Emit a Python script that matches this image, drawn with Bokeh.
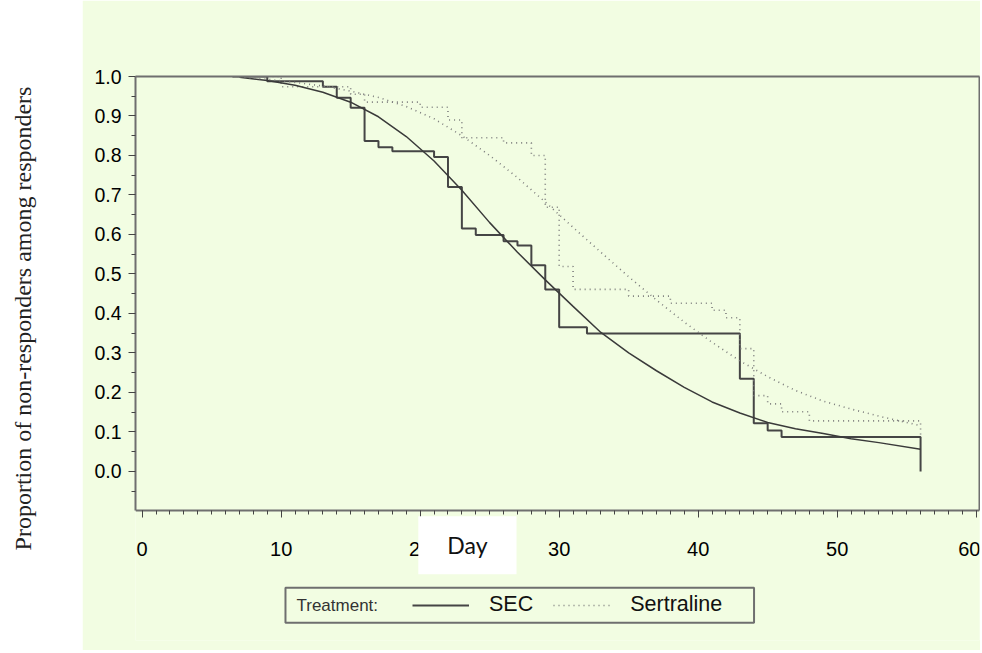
import math
from bokeh.plotting import figure
from bokeh.layouts import row
from bokeh.models import (Range1d, FixedTicker, NumeralTickFormatter, Label,
                          Legend, LegendItem, LinearAxis)
from bokeh.embed import file_html
from bokeh.resources import INLINE

# ---------------- data ----------------
sec_step_day = [6.5, 9, 13, 14, 15, 16, 17, 18, 21, 22, 23, 24, 26, 27, 28, 29, 30, 32, 43, 44, 45, 46, 56]
sec_step_surv = [1.0, 0.988, 0.974, 0.946, 0.921, 0.837, 0.821, 0.811, 0.796, 0.720, 0.615, 0.599,
                 0.583, 0.572, 0.522, 0.461, 0.365, 0.349, 0.235, 0.122, 0.104, 0.087, 0.0]

ser_step_day = [6.5, 10, 15, 16, 20, 22, 23, 26, 28, 29, 30, 31, 35, 38, 41, 42, 43, 44, 45, 46, 48, 56]
ser_step_surv = [1.0, 0.974, 0.955, 0.935, 0.922, 0.890, 0.845, 0.832, 0.800, 0.669, 0.519, 0.461,
                 0.444, 0.426, 0.408, 0.389, 0.311, 0.192, 0.171, 0.151, 0.128, 0.090]

fit_day = [7, 9, 11, 13, 15, 17, 19, 21, 23, 25, 27, 29, 31, 33, 35, 37, 39, 41, 43, 45, 47, 49, 51, 53, 56]
sec_fit = [0.998, 0.990, 0.978, 0.960, 0.935, 0.898, 0.848, 0.786, 0.712, 0.630, 0.555, 0.485, 0.418,
           0.352, 0.300, 0.255, 0.213, 0.176, 0.148, 0.124, 0.108, 0.096, 0.083, 0.073, 0.056]
ser_fit = [0.999, 0.993, 0.985, 0.976, 0.963, 0.947, 0.924, 0.893, 0.850, 0.800, 0.744, 0.682, 0.618,
           0.555, 0.493, 0.434, 0.378, 0.327, 0.280, 0.240, 0.205, 0.178, 0.158, 0.140, 0.116]

x_ticks = [0, 10, 20, 30, 40, 50, 60]
y_ticks = [0.0, 0.1, 0.2, 0.3, 0.4, 0.5, 0.6, 0.7, 0.8, 0.9, 1.0]
series_names = ["SEC", "Sertraline"]
legend_title = "Treatment:"
x_title = "Day"
y_title = "Proportion of non-responders among responders"

# ---------------- styling ----------------
BG = "#F2FDE2"
BOX = "#6f6f6f"
DARK = "#454545"
DOT = "#7c7c7c"
H = 650
TOP, BOTTOM = 76, 10

# left white strip with the rotated y title
left = figure(width=82, height=H, x_range=Range1d(0, 82), y_range=Range1d(0, H - TOP - BOTTOM),
              output_backend="svg", toolbar_location=None,
              min_border_left=0, min_border_right=0, min_border_top=TOP, min_border_bottom=BOTTOM,
              x_axis_type=None, y_axis_type=None, outline_line_color=None,
              background_fill_color="white", border_fill_color="white")
left.grid.visible = False
left.add_layout(Label(x=22, y=H - BOTTOM - 318, text=y_title, angle=math.pi / 2,
                      text_align="center", text_baseline="middle",
                      text_font="Liberation Serif", text_font_size="24px", text_color="#222222"))

p = figure(width=898, height=H, x_range=Range1d(-0.48, 60.24), y_range=Range1d(-0.428, 1.0),
           output_backend="svg", toolbar_location=None,
           min_border_left=53, min_border_right=1, min_border_top=TOP, min_border_bottom=BOTTOM,
           background_fill_color=BG, border_fill_color=BG, outline_line_color=None)
p.grid.visible = False

# axes: x axis drawn at the bottom of the plot box, inside the frame
p.xaxis.fixed_location = -0.1
p.xaxis.ticker = FixedTicker(ticks=x_ticks, minor_ticks=list(range(0, 61)))
p.yaxis.ticker = FixedTicker(ticks=y_ticks, minor_ticks=[t - 0.05 for t in y_ticks])
p.yaxis.bounds = (-0.1, 1.0)
p.yaxis.formatter = NumeralTickFormatter(format="0.0")
for ax in (p.xaxis, p.yaxis):
    ax.axis_line_color = BOX
    ax.axis_line_width = 2
    ax.major_tick_line_color = "#444444"
    ax.minor_tick_line_color = "#444444"
    ax.major_tick_in = 0
    ax.minor_tick_in = 0
    ax.major_tick_out = 7
    ax.minor_tick_out = 4
    ax.major_label_text_font = "Liberation Sans"
    ax.major_label_text_color = "#000000"
p.xaxis.major_label_text_font_size = "20px"
p.xaxis.major_label_standoff = 24
p.yaxis.major_label_text_font_size = "19.5px"
p.yaxis.major_label_standoff = 7

# top and right edges of the plot box
top_ax = LinearAxis(ticker=FixedTicker(ticks=[]), axis_line_color=BOX, axis_line_width=2)
right_ax = LinearAxis(ticker=FixedTicker(ticks=[]), axis_line_color=BOX, axis_line_width=2,
                      bounds=(-0.1, 1.0))
p.add_layout(top_ax, "above")
p.add_layout(right_ax, "right")

# curves
r_sec = p.step(sec_step_day, sec_step_surv, mode="after", line_color=DARK, line_width=2)
r_ser = p.step(ser_step_day, ser_step_surv, mode="after", line_color=DOT, line_width=1.6,
               line_dash="1 4")
p.line(fit_day, sec_fit, line_color="#3a3a3a", line_width=1.5)
p.line(fit_day, ser_fit, line_color=DOT, line_width=1.6, line_dash="1 4")

# "Day" title in a white box
p.add_layout(Label(x=23.4, y=-0.187, text=x_title, text_align="center", text_baseline="middle",
                   text_font="Lato", text_font_size="23px", text_color="#111111",
                   background_fill_color="white",
                   padding=dict(left=29, right=29, top=15, bottom=15)))

# legend box with "Treatment:" text
p.add_layout(Label(x=10.31, y=-0.339, text=legend_title, text_align="left", text_baseline="middle",
                   text_font="Liberation Sans", text_font_size="17px", text_color="#333333",
                   border_line_color=BOX, border_line_width=2,
                   padding=dict(left=11, right=376, top=8, bottom=8)))

legend = Legend(items=[LegendItem(label=series_names[0], renderers=[r_sec]),
                       LegendItem(label=series_names[1], renderers=[r_ser])],
                location=(277, 23), orientation="horizontal",
                glyph_width=57, glyph_height=24, label_height=24, label_standoff=20, spacing=20,
                padding=0, margin=0, border_line_alpha=0, background_fill_alpha=0,
                label_text_font="Liberation Sans", label_text_font_size="21.5px",
                label_text_color="#111111")
p.add_layout(legend, "center")

layout = row(left, p, spacing=0)
open("out.html", "w").write(file_html(layout, INLINE))
